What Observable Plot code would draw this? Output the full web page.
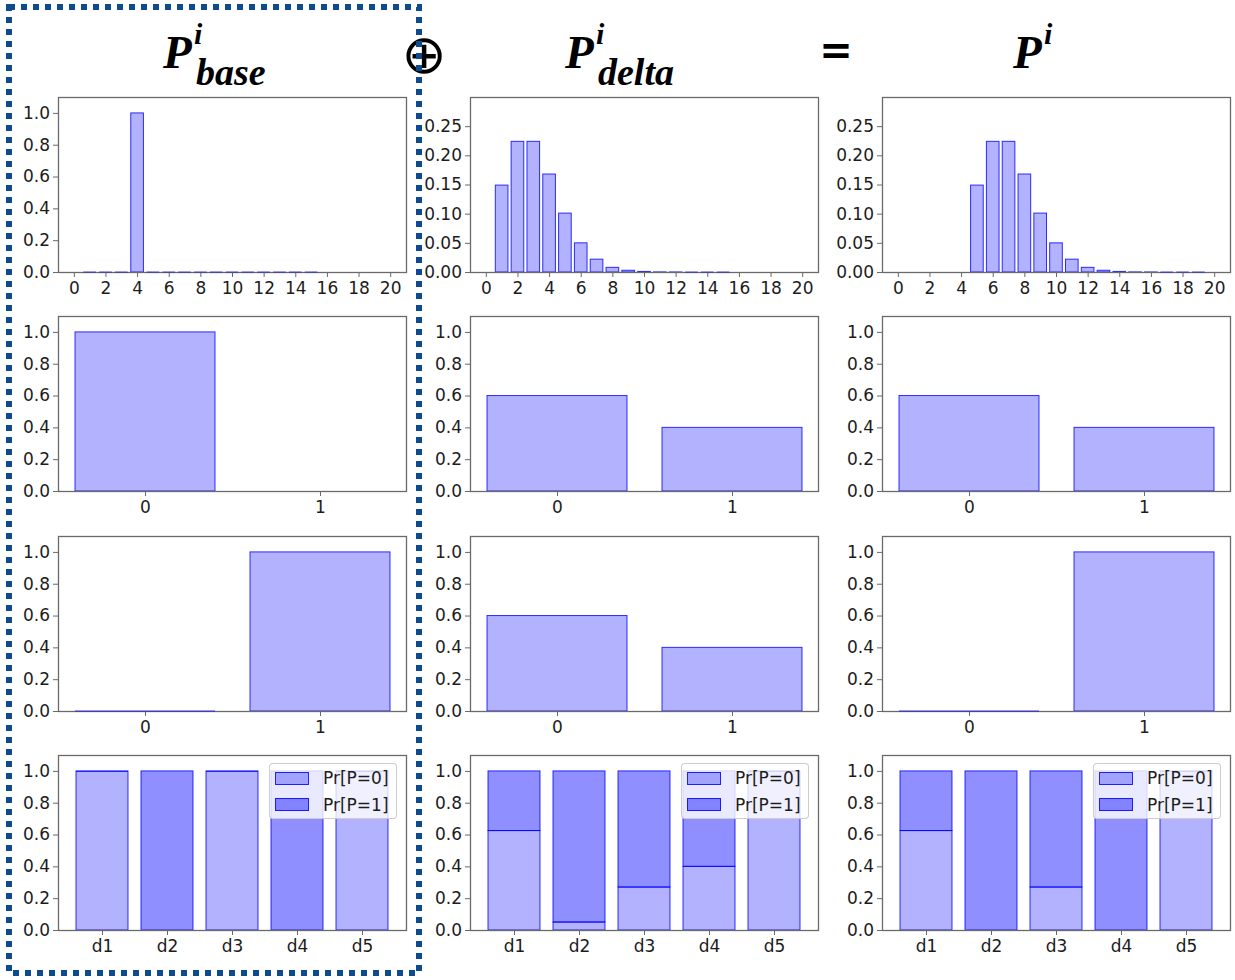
<!DOCTYPE html>
<html>
<head>
<meta charset="utf-8">
<script src="https://cdn.jsdelivr.net/npm/d3@7"></script>
<script src="https://cdn.jsdelivr.net/npm/@observablehq/plot@0.6"></script>
<style>
  body { margin: 0; background: #fff; }
  #fig { position: relative; width: 1235px; height: 980px; overflow: hidden; background: #fff; }
  .panel { position: absolute; }
  .panel g[aria-label="x-axis tick"], .panel g[aria-label="y-axis tick"] { stroke: #6a6a6a; }
  .panel g[aria-label="x-axis"] line, .panel g[aria-label="y-axis"] line { stroke: #6a6a6a; }
  .legend {
    position: absolute; width: 128px; height: 56px; box-sizing: border-box;
    background: rgba(255,255,255,0.8); border: 1px solid rgba(200,200,200,0.9); border-radius: 4px;
    font-family: "DejaVu Sans", sans-serif; font-size: 17px; color: #1c1c1c;
  }
  .legend .row { position: absolute; left: 5px; height: 18px; display: flex; align-items: center; white-space: nowrap; }
  .legend .sw { width: 34px; height: 13px; box-sizing: border-box; border: 1px solid rgba(0,0,255,0.8); margin-right: 14px; }
  #overlay { position: absolute; left: 0; top: 0; pointer-events: none; }
</style>
</head>
<body>
<div id="fig"></div>
<script>
// ---- values ----
// count distributions (top row): support points and probabilities
const baseCounts = [1, 2, 3, 4, 5, 6, 7, 8, 9, 10, 11, 12, 13, 14, 15];
const baseProbs  = [0, 0, 0, 1.0, 0, 0, 0, 0, 0, 0, 0, 0, 0, 0, 0];
const deltaCounts = [1, 2, 3, 4, 5, 6, 7, 8, 9, 10, 11, 12, 13, 14, 15];
const deltaProbs  = [0.149, 0.224, 0.224, 0.168, 0.101, 0.050, 0.022, 0.008, 0.003, 0.001, 0.0002, 0.0001, 0, 0, 0];
const sumCounts = [5, 6, 7, 8, 9, 10, 11, 12, 13, 14, 15, 16, 17, 18, 19];
const sumProbs  = [0.149, 0.224, 0.224, 0.168, 0.101, 0.050, 0.022, 0.008, 0.003, 0.001, 0.0002, 0.0001, 0, 0, 0];
const countTicks = [0, 2, 4, 6, 8, 10, 12, 14, 16, 18, 20];
const unitTicks = [0, 0.2, 0.4, 0.6, 0.8, 1.0];
const smallTicks = [0, 0.05, 0.10, 0.15, 0.20, 0.25];

// binary distributions (rows two and three)
const bitLabels = ["0", "1"];
const row2Base  = [1.0, null];
const row2Delta = [0.6, 0.4];
const row2Sum   = [0.6, 0.4];
const row3Base  = [0, 1.0];
const row3Delta = [0.6, 0.4];
const row3Sum   = [0, 1.0];

// per-document probabilities (bottom row)
const docs = ["d1", "d2", "d3", "d4", "d5"];
const baseP0  = [1.0, 0, 1.0, 0, 1.0];
const baseP1  = [0, 1.0, 0, 1.0, 0];
const deltaP0 = [0.625, 0.05, 0.27, 0.40, 1.0];
const deltaP1 = [0.375, 0.95, 0.73, 0.60, 0];
const sumP0   = [0.625, 0, 0.27, 0, 1.0];
const sumP1   = [0.375, 1.0, 0.73, 1.0, 0];
const legendLabels = ["Pr[P=0]", "Pr[P=1]"];

// column headings
const headSup = "i";
const headSubs = ["base", "delta", ""];

// ---- layout ----
const fig = document.getElementById("fig");
const W = 348, H = 175;
const colLeft = [58, 470, 882];
const rowTop = [97, 316, 536, 755];
const M = {l: 62, r: 4, t: 4, b: 34};
const BLUE = "blue";
const OP0 = 0.3, OP1 = 0.44, EDGE = 0.8;

const xAxis = {tickSize: 5, tickPadding: 4, label: null};
const yAxis = {tickSize: 5, tickPadding: 3.5, label: null};
const frame = () => Plot.frame({stroke: "#6a6a6a", strokeWidth: 1.3});

function make(opts) {
  return Plot.plot({
    width: W + M.l + M.r,
    height: H + M.t + M.b,
    marginLeft: M.l, marginRight: M.r, marginTop: M.t, marginBottom: M.b,
    style: {fontFamily: "DejaVu Sans, sans-serif", fontSize: "17px", color: "#1c1c1c", background: "transparent", overflow: "visible"},
    ...opts
  });
}

function place(svg, col, row) {
  svg.classList.add("panel");
  svg.style.left = (colLeft[col] - M.l) + "px";
  svg.style.top = (rowTop[row] - M.t) + "px";
  fig.append(svg);
}

function countPanel(ks, ps, yMax, yTicks, yFmt) {
  const rows = ks.map((k, i) => ({k, p: ps[i]}));
  return make({
    x: {domain: [-1, 21], ticks: countTicks, tickFormat: "d", ...xAxis},
    y: {domain: [0, yMax], ticks: yTicks, tickFormat: yFmt, ...yAxis},
    marks: [
      Plot.rect(rows.filter(d => d.p > 0), {
        x1: d => d.k - 0.4, x2: d => d.k + 0.4, y1: 0, y2: "p",
        fill: BLUE, fillOpacity: OP0, stroke: BLUE, strokeOpacity: EDGE, strokeWidth: 1
      }),
      frame(),
      // zero-probability support points still show their bar outline on the baseline
      Plot.ruleY(rows.filter(d => d.p === 0), {
        y: "p", x1: d => d.k - 0.4, x2: d => d.k + 0.4, dy: -0.5,
        stroke: BLUE, strokeOpacity: 0.55, strokeWidth: 1.2
      })
    ]
  });
}

function binaryPanel(ps) {
  const rows = bitLabels.map((c, i) => ({c, p: ps[i]})).filter(d => d.p != null);
  return make({
    x: {type: "band", domain: bitLabels, paddingInner: 0.2, paddingOuter: 0.09, ...xAxis},
    y: {domain: [0, 1.1], ticks: unitTicks, tickFormat: ".1f", ...yAxis},
    marks: [
      Plot.barY(rows.filter(d => d.p > 0), {
        x: "c", y1: 0, y2: "p",
        fill: BLUE, fillOpacity: OP0, stroke: BLUE, strokeOpacity: EDGE, strokeWidth: 1
      }),
      frame(),
      Plot.tickY(rows.filter(d => d.p === 0), {x: "c", y: "p", dy: -0.5, stroke: BLUE, strokeOpacity: 0.7, strokeWidth: 1.2})
    ]
  });
}

function docPanel(p0, p1) {
  const rows = docs.map((d, i) => ({d, p0: p0[i], p1: p1[i]}));
  const style = (op) => ({fill: BLUE, fillOpacity: op, stroke: BLUE, strokeOpacity: EDGE, strokeWidth: 1});
  return make({
    x: {type: "band", domain: docs, paddingInner: 0.2, paddingOuter: 0.24, ...xAxis},
    y: {domain: [0, 1.1], ticks: unitTicks, tickFormat: ".1f", ...yAxis},
    marks: [
      Plot.barY(rows.filter(r => r.p0 > 0), {x: "d", y1: 0, y2: "p0", ...style(OP0)}),
      Plot.barY(rows.filter(r => r.p1 > 0), {x: "d", y1: "p0", y2: r => r.p0 + r.p1, ...style(OP1)}),
      Plot.tickY(rows.filter(r => r.p1 === 0), {x: "d", y: "p0", stroke: BLUE, strokeOpacity: EDGE, strokeWidth: 1}),
      frame()
    ]
  });
}

function legend(col) {
  const div = document.createElement("div");
  div.className = "legend";
  div.style.left = (colLeft[col] + W - 9 - 128) + "px";
  div.style.top = (rowTop[3] + 8) + "px";
  legendLabels.forEach((label, i) => {
    const row = document.createElement("div");
    row.className = "row";
    row.style.top = (5 + i * 26.5) + "px";
    const sw = document.createElement("div");
    sw.className = "sw";
    sw.style.background = `rgba(0,0,255,${i === 0 ? OP0 : OP1})`;
    const tx = document.createElement("span");
    tx.textContent = label;
    row.append(sw, tx);
    div.append(row);
  });
  fig.append(div);
}

// top row: count distributions
place(countPanel(baseCounts, baseProbs, 1.1, unitTicks, ".1f"), 0, 0);
place(countPanel(deltaCounts, deltaProbs, 0.3, smallTicks, ".2f"), 1, 0);
place(countPanel(sumCounts, sumProbs, 0.3, smallTicks, ".2f"), 2, 0);

// rows two and three: binary variables
place(binaryPanel(row2Base), 0, 1);
place(binaryPanel(row2Delta), 1, 1);
place(binaryPanel(row2Sum), 2, 1);
place(binaryPanel(row3Base), 0, 2);
place(binaryPanel(row3Delta), 1, 2);
place(binaryPanel(row3Sum), 2, 2);

// bottom row: per-document probabilities
place(docPanel(baseP0, baseP1), 0, 3);
place(docPanel(deltaP0, deltaP1), 1, 3);
place(docPanel(sumP0, sumP1), 2, 3);
legend(0); legend(1); legend(2);

// headings, operators and the dotted box around the first column
const svg = d3.select(fig).append("svg")
  .attr("id", "overlay").attr("width", 1235).attr("height", 980);

const headX = [163, 565, 1013];
headX.forEach((x0, i) => {
  const g = svg.append("g")
    .attr("font-family", "Liberation Serif, serif").attr("font-weight", "bold").attr("font-style", "italic")
    .attr("fill", "#000");
  g.append("text").attr("x", x0).attr("y", 68).attr("font-size", 47).text("P");
  g.append("text").attr("x", x0 + 31).attr("y", 44).attr("font-size", 30).text(headSup);
  if (headSubs[i]) g.append("text").attr("x", x0 + 33).attr("y", 84.5).attr("font-size", 38).text(headSubs[i]);
});

svg.append("text").attr("x", 424).attr("y", 54).attr("text-anchor", "middle").attr("dominant-baseline", "central")
  .attr("font-family", "DejaVu Sans, sans-serif").attr("font-size", 54).attr("fill", "#000").text("⊕");
svg.append("text").attr("x", 836).attr("y", 50).attr("text-anchor", "middle").attr("dominant-baseline", "central")
  .attr("font-family", "DejaVu Sans, sans-serif").attr("font-weight", "bold").attr("font-size", 40).attr("fill", "#000").text("=");

svg.append("rect")
  .attr("x", 9).attr("y", 7).attr("width", 410).attr("height", 966)
  .attr("fill", "none").attr("stroke", "#0d4a8f").attr("stroke-width", 6).attr("stroke-dasharray", "6 6");
</script>
</body>
</html>
